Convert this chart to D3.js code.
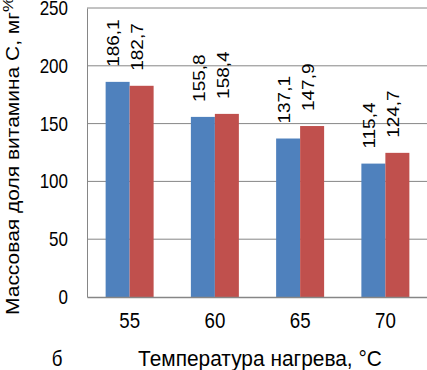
<!DOCTYPE html>
<html>
<head>
<meta charset="utf-8">
<script src="https://cdn.jsdelivr.net/npm/d3@7"></script>
<style>
  body { margin: 0; background: #fff; }
  svg { display: block; }
</style>
</head>
<body>
<div id="chart"></div>
<script>
const temps = ['55', '60', '65', '70'];
const seriesA = [186.1, 155.8, 137.1, 115.4];
const seriesB = [182.7, 158.4, 147.9, 124.7];
const yTicks = [0, 50, 100, 150, 200, 250];
const colors = ['#4F81BD', '#C0504D'];

const width = 427, height = 370;
const margin = { top: 8, right: -1, bottom: 73, left: 87 };
const sq = 0.85; // text in the reference is squeezed horizontally
const font = '"Liberation Sans", Arial, sans-serif';

const svg = d3.select('#chart').append('svg')
  .attr('width', width)
  .attr('height', height);

const x = d3.scaleBand()
  .domain(temps)
  .range([margin.left, width - margin.right])
  .paddingInner(0.437)
  .paddingOuter(0.2185);

const xSub = d3.scaleBand()
  .domain([0, 1])
  .range([0, x.bandwidth()]);

const y = d3.scaleLinear()
  .domain([0, 250])
  .range([height - margin.bottom, margin.top]);

// grid
svg.append('g')
  .selectAll('line')
  .data(yTicks.filter(d => d > 0))
  .join('line')
  .attr('x1', margin.left).attr('x2', width)
  .attr('y1', d => y(d)).attr('y2', d => y(d))
  .attr('stroke', '#868686')
  .attr('stroke-width', 1);

// y axis
const yAxis = svg.append('g')
  .attr('transform', `translate(${margin.left},0)`)
  .call(d3.axisLeft(y).tickValues(yTicks).tickSize(0).tickPadding(0));
yAxis.select('.domain').attr('stroke', '#868686');
yAxis.selectAll('text')
  .attr('x', -19 / sq)
  .attr('transform', `scale(${sq},1)`)
  .attr('font-family', font)
  .attr('font-size', 20)
  .attr('fill', '#000');

const data = [];
temps.forEach((t, i) => {
  data.push({ t, s: 0, v: seriesA[i] });
  data.push({ t, s: 1, v: seriesB[i] });
});

svg.append('g')
  .selectAll('rect')
  .data(data)
  .join('rect')
  .attr('x', d => x(d.t) + xSub(d.s))
  .attr('width', xSub.bandwidth())
  .attr('y', d => y(d.v))
  .attr('height', d => y(0) - y(d.v))
  .attr('fill', d => colors[d.s]);

// x axis
const xAxis = svg.append('g')
  .attr('transform', `translate(0,${y(0)})`)
  .call(d3.axisBottom(x).tickSize(0).tickPadding(15));
xAxis.select('.domain').attr('stroke', '#868686').attr('stroke-width', 1.5);
xAxis.selectAll('text')
  .attr('transform', `scale(${sq},1)`)
  .attr('font-family', font)
  .attr('font-size', 22)
  .attr('fill', '#000');

// value labels
svg.append('g')
  .selectAll('text')
  .data(data)
  .join('text')
  .attr('transform', d => `translate(${x(d.t) + xSub(d.s) + xSub.bandwidth() / 2 - 4},${y(d.v) - 15}) scale(${sq},1) rotate(-90)`)
  .attr('dy', '0.35em')
  .attr('font-family', font)
  .attr('font-size', 19)
  .attr('fill', '#000')
  .text(d => d3.format('.1f')(d.v).replace('.', ','));

// axis titles
svg.append('text')
  .attr('transform', 'translate(260,366) scale(0.95,1)')
  .attr('text-anchor', 'middle')
  .attr('font-family', font)
  .attr('font-size', 22)
  .attr('fill', '#000')
  .text('Температура нагрева, °C');

svg.append('text')
  .attr('transform', `translate(57,366) scale(${sq},1)`)
  .attr('text-anchor', 'middle')
  .attr('font-family', font)
  .attr('font-size', 22)
  .attr('fill', '#000')
  .text('б');

const yt = svg.append('text')
  .attr('transform', `translate(19,315) scale(${sq},1) rotate(-90)`)
  .attr('font-family', font)
  .attr('font-size', 21)
  .attr('fill', '#000');
yt.append('tspan').text('Массовая доля витамина С, мг');
yt.append('tspan').attr('dy', -7).attr('font-size', 17).text('%');
</script>
</body>
</html>
